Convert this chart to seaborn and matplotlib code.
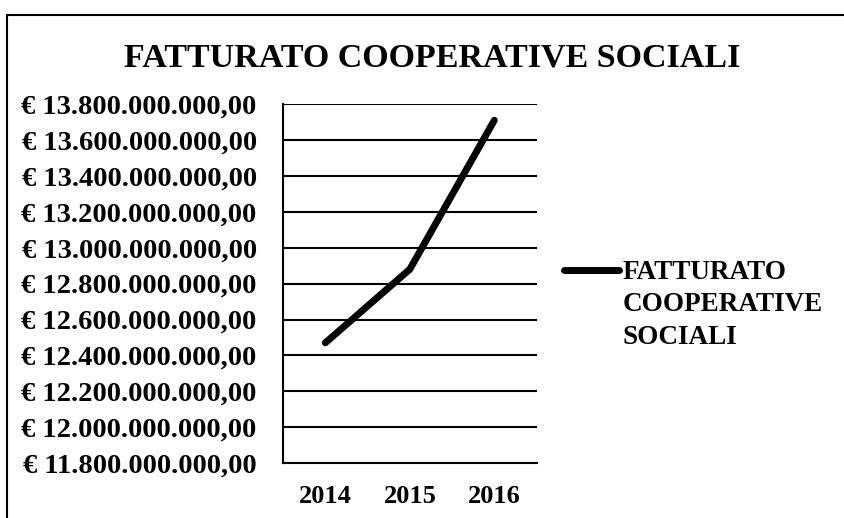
import seaborn as sns
import matplotlib.pyplot as plt
import pandas as pd
from matplotlib.ticker import FuncFormatter
from matplotlib.lines import Line2D

# Data
years = ['2014', '2015', '2016']
fatturato = [12.47e9, 12.88e9, 13.71e9]
yticks = [11.8e9 + i * 0.2e9 for i in range(11)]
series_name = 'FATTURATO COOPERATIVE SOCIALI'

df = pd.DataFrame({'Anno': years, 'Fatturato': fatturato})

sns.set_style('white')
plt.rcParams['font.family'] = ['Liberation Serif', 'DejaVu Serif']
plt.rcParams['font.weight'] = 'bold'
plt.rcParams['text.color'] = 'black'
plt.rcParams['xtick.color'] = 'black'
plt.rcParams['ytick.color'] = 'black'

fig = plt.figure(figsize=(8.45, 5.18), dpi=100)
ax = fig.add_axes([0.335, 0.106, 0.3, 0.693])

sns.lineplot(data=df, x='Anno', y='Fatturato', ax=ax, color='black',
             linewidth=5, solid_capstyle='round', label='FATTURATO')

# euro formatting: € 13.800.000.000,00
def euro(v, pos):
    s = '{:,.2f}'.format(v).replace(',', 'X').replace('.', ',').replace('X', '.')
    return '€ ' + s

ax.set_ylim(yticks[0], yticks[-1])
ax.set_yticks(yticks)
ax.yaxis.set_major_formatter(FuncFormatter(euro))
ax.yaxis.grid(True, color='black', linewidth=1.5)
ax.set_axisbelow(True)

ax.set_xlim(-0.5, 2.5)
ax.set_xticks(range(len(years)))
ax.set_xticklabels(years)
ax.set_xticks([-0.5, 0.5, 1.5, 2.5], minor=True)
ax.tick_params(axis='x', which='major', length=0, labelsize=19, pad=16)
ax.tick_params(axis='x', which='minor', length=6, width=1.5, direction='out')
ax.tick_params(axis='y', length=5, width=1.5, direction='out', labelsize=20.5, pad=14)
for lab in ax.get_xticklabels() + ax.get_yticklabels():
    lab.set_fontweight('bold')

ax.set_xlabel('')
ax.set_ylabel('')
for side in ['top', 'right']:
    ax.spines[side].set_visible(False)
for side in ['left', 'bottom']:
    ax.spines[side].set_color('black')
    ax.spines[side].set_linewidth(1.5)

leg = ax.legend(loc='center left', bbox_to_anchor=(1.11, 0.53), frameon=False,
                borderpad=0, borderaxespad=0, handlelength=2.0, handletextpad=0.15,
                prop={'size': 19.5, 'weight': 'bold'})

fig.text(0.511, 0.888, series_name, ha='center', va='center',
         fontsize=24.5, fontweight='bold')

# page frame from the scanned image
fig.add_artist(Line2D([0.008, 0.008], [0, 0.971], color='black', linewidth=1.5))
fig.add_artist(Line2D([0.008, 1], [0.971, 0.971], color='black', linewidth=1.5))

# rest of the wrapped legend label, placed under the first legend line
fig.canvas.draw()
bb = leg.get_texts()[0].get_window_extent().transformed(fig.transFigure.inverted())
fig.text(bb.x0, bb.y0 - 7 / 518, 'COOPERATIVE\nSOCIALI', ha='left', va='top',
         fontsize=19.5, fontweight='bold', linespacing=1.38)

fig.savefig('out.png', dpi=100, facecolor='white')
